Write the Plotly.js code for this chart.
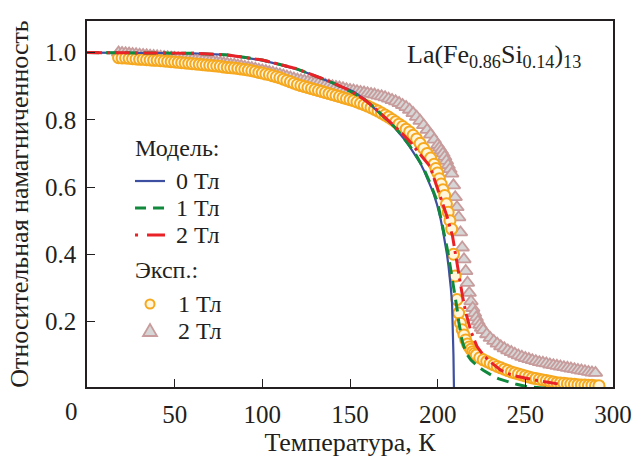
<!DOCTYPE html>
<html>
<head>
<meta charset="utf-8">
<script src="https://cdn.plot.ly/plotly-3.0.1.min.js"></script>
</head>
<body style="margin:0;background:#fff">
<div id="chart" style="width:633px;height:458px"></div>
<script>
// ---- Model curves ----
const blueT = [0,20,40,60,80,100,110,120,128,133,138,142,147,152,158,163,167,171,175,178,181,184,186,188,190,192,194,195.5,197.6,199.5,201.4,203,204.3,205.3,206.2,207,207.5,208.2,208.7,209,209.2,209.3];
const blueM = [1,1,0.999,0.998,0.993,0.977,0.964,0.950,0.935,0.924,0.914,0.905,0.895,0.884,0.862,0.839,0.82,0.80,0.78,0.762,0.742,0.72,0.705,0.69,0.672,0.651,0.628,0.61,0.582,0.55,0.512,0.47,0.433,0.40,0.364,0.33,0.30,0.255,0.185,0.10,0.03,0.0];

const greenT = [0,20,40,60,80,100,120,138,150,158,163,167,171,175,178,181,184,188,192,195.5,198,200,201.5,203,204.2,205.2,206.2,207,208,208.8,210,211,212,213,214,215.5,217,219,221,223.5,226,229,232,235,238,242,245,250,255,260,265,270];
const greenM = [1,1,0.999,0.998,0.993,0.978,0.951,0.915,0.885,0.862,0.840,0.821,0.801,0.781,0.763,0.744,0.723,0.692,0.655,0.614,0.582,0.554,0.515,0.48,0.45,0.423,0.395,0.37,0.345,0.315,0.284,0.24,0.20,0.168,0.141,0.118,0.10,0.085,0.075,0.064,0.055,0.045,0.036,0.029,0.024,0.017,0.013,0.007,0.004,0.002,0.001,0.0];

const redT = [0,20,40,60,80,100,120,138,150,157.7,163,168,174,180.5,185,188,192,195.7,199,202.8,205.5,208.5,210.5,212.3,214.2,216.1,219,222.4,226,230,236,240,245,250,257,263,270];
const redM = [1,1,0.999,0.998,0.993,0.978,0.951,0.915,0.887,0.862,0.840,0.817,0.788,0.755,0.73,0.71,0.685,0.661,0.61,0.552,0.51,0.453,0.395,0.334,0.275,0.225,0.17,0.126,0.10,0.08,0.055,0.045,0.037,0.031,0.024,0.019,0.013];

// ---- Experiment, 1 T (circles) ----
const exp1T = [18,20,22,24,26,28,30,32,34,36,38,40,42,44,46,48,50,52,54,56,58,60,62,64,66,68,70,72,74,76,78,80,82,84,86,88,90,92,94,96,98,100,102,104,106,108,110,112,114,116,118,120,122,124,126,128,130,132,134,136,138,140,142,144,146,148,150,152,154,156,158,160,162,164,166,168,170,172,174,176,178,180,182,184,186,188,190,192,194,196,198,199,200,201,202,203,204,205,206,207,208,209,210,211,212,213,214,215,216,217,218,219,220,221,222,224,226,228,230,232,234,236,238,240,242,244,246,248,250,252,254,256,258,260,262,264,266,268,270,272,274,276,278,280,282,284,286,288,290,292];
const exp1M = [0.985,0.984,0.984,0.983,0.982,0.981,0.980,0.980,0.979,0.978,0.977,0.977,0.976,0.975,0.974,0.973,0.972,0.971,0.970,0.969,0.968,0.967,0.966,0.965,0.964,0.963,0.962,0.961,0.960,0.959,0.957,0.956,0.955,0.954,0.953,0.951,0.950,0.948,0.946,0.944,0.941,0.939,0.936,0.934,0.931,0.928,0.925,0.921,0.917,0.913,0.909,0.905,0.902,0.899,0.896,0.893,0.890,0.887,0.884,0.881,0.878,0.875,0.872,0.869,0.866,0.863,0.860,0.857,0.853,0.849,0.845,0.841,0.836,0.831,0.826,0.820,0.814,0.808,0.801,0.794,0.787,0.780,0.772,0.764,0.754,0.743,0.730,0.715,0.700,0.686,0.668,0.655,0.642,0.625,0.609,0.592,0.575,0.550,0.525,0.500,0.475,0.400,0.335,0.265,0.225,0.195,0.175,0.160,0.145,0.133,0.124,0.117,0.110,0.105,0.100,0.092,0.086,0.081,0.076,0.071,0.066,0.062,0.058,0.054,0.050,0.047,0.044,0.041,0.038,0.035,0.032,0.030,0.028,0.026,0.024,0.022,0.020,0.018,0.017,0.016,0.015,0.014,0.013,0.012,0.011,0.011,0.010,0.010,0.009,0.009];

// ---- Experiment, 2 T (triangles) ----
const exp2T = [18,20,22,24,26,28,30,32,34,36,38,40,42,44,46,48,50,52,54,56,58,60,62,64,66,68,70,72,74,76,78,80,82,84,86,88,90,92,94,96,98,100,102,104,106,108,110,112,114,116,118,120,122,124,126,128,130,132,134,136,138,140,142,144,146,148,150,152,154,156,158,160,162,164,166,168,170,172,174,176,178,180,182,184,186,188,190,192,194,196,198,200,201,202,203,204,205,206,207,208,209,210,211,212,213,214,215,216,217,218,219,220,221,222,223,224,225,226,228,230,232,234,236,238,240,242,244,246,248,250,252,254,256,258,260,262,264,266,268,270,272,274,276,278,280,282,284,286,288,290];
const exp2M = [1.000,0.999,0.998,0.997,0.996,0.995,0.994,0.993,0.992,0.991,0.990,0.989,0.988,0.987,0.986,0.985,0.984,0.983,0.982,0.981,0.980,0.979,0.978,0.977,0.976,0.975,0.974,0.973,0.971,0.970,0.968,0.967,0.965,0.964,0.962,0.960,0.958,0.956,0.954,0.952,0.949,0.947,0.945,0.942,0.940,0.937,0.935,0.932,0.929,0.926,0.923,0.920,0.918,0.916,0.914,0.912,0.910,0.908,0.906,0.904,0.902,0.900,0.898,0.896,0.894,0.891,0.889,0.887,0.885,0.883,0.881,0.879,0.877,0.875,0.872,0.870,0.867,0.863,0.859,0.855,0.850,0.844,0.838,0.830,0.820,0.809,0.797,0.784,0.770,0.756,0.741,0.725,0.717,0.709,0.700,0.690,0.678,0.665,0.653,0.640,0.605,0.570,0.540,0.510,0.465,0.420,0.385,0.350,0.315,0.285,0.260,0.240,0.225,0.212,0.200,0.190,0.181,0.174,0.162,0.151,0.142,0.134,0.126,0.120,0.114,0.109,0.104,0.099,0.095,0.091,0.088,0.085,0.082,0.079,0.077,0.075,0.072,0.070,0.068,0.066,0.064,0.062,0.060,0.058,0.056,0.054,0.052,0.050,0.048,0.047];

const xTicks = [50,100,150,200,250,300];
const yTicks = [0.2,0.4,0.6,0.8,1.0];
const groupModel = 'Модель:';
const groupExp = 'Эксп.:';
const names = ['0 Тл','1 Тл','2 Тл','1 Тл','2 Тл'];
const xTitle = 'Температура, К';
const yTitle = 'Относительная намагниченность';
const formula = 'La(Fe<sub>0.86</sub>Si<sub>0.14</sub>)<sub>13</sub>';

const FONT = 'Liberation Serif';
const TXT = '#231f20';
const FT = {family: FONT, size: 25, color: TXT};
const FL = {family: FONT, size: 26, color: TXT};
const FG = {family: FONT, size: 24, color: TXT};

const C_BLUE = '#3d4fa1', C_GREEN = '#11893d', C_RED = '#e92228';
const C_ORANGE = '#f6a81f', C_CREAM = '#fff6dc', C_ROSE = '#c89c9c', C_GREY = '#d6d6d6';
const DASH_G = '12px,7px', DASH_R = '15px,5px,3px,5px';

const traces = [
  {x: exp2T, y: exp2M, mode: 'markers', type: 'scatter', name: names[4], showlegend: false,
   marker: {symbol: 'triangle-up', size: 12, color: C_GREY, line: {color: C_ROSE, width: 1.8}}},
  {x: exp1T, y: exp1M, mode: 'markers', type: 'scatter', name: names[3], showlegend: false,
   marker: {symbol: 'circle', size: 11, color: C_CREAM, line: {color: C_ORANGE, width: 2}}},
  {x: blueT, y: blueM, mode: 'lines', type: 'scatter', name: names[0], showlegend: false,
   line: {color: C_BLUE, width: 2.2}},
  {x: greenT, y: greenM, mode: 'lines', type: 'scatter', name: names[1], showlegend: false,
   line: {color: C_GREEN, width: 3, dash: DASH_G}},
  {x: redT, y: redM, mode: 'lines', type: 'scatter', name: names[2], showlegend: false,
   line: {color: C_RED, width: 3, dash: DASH_R}}
];

// legend (hand-built: header texts + symbols), positions in paper units
const LX0 = 0.0913, LX1 = 0.1483, LTX = 0.166, LHX = 0.0875;
const rowY = [0.5628, 0.489, 0.4153, 0.2268, 0.153];
const headY = [0.653, 0.3197];

const ann = (text, x, y, xa, font, extra) => Object.assign({text, x, y, xref: 'paper', yref: 'paper',
  xanchor: xa, yanchor: 'middle', showarrow: false, font}, extra || {});

const annotations = [
  ann(formula, 0.943, 0.905, 'right', FL),
  ann('0', 0, 0, 'center', FT, {yanchor: 'top', xshift: -16, yshift: -9}),
  ann(groupModel, LHX, headY[0], 'left', FG),
  ann(names[0], LTX, rowY[0], 'left', FG),
  ann(names[1], LTX, rowY[1], 'left', FG),
  ann(names[2], LTX, rowY[2], 'left', FG),
  ann(groupExp, LHX, headY[1], 'left', FG),
  ann(names[3], LTX + 0.004, rowY[3], 'left', FG),
  ann(names[4], LTX + 0.004, rowY[4], 'left', FG)
];

const shapes = [
  {type: 'line', xref: 'paper', yref: 'paper', x0: LX0, x1: LX1, y0: rowY[0], y1: rowY[0], line: {color: C_BLUE, width: 2.2}},
  {type: 'line', xref: 'paper', yref: 'paper', x0: LX0, x1: LX1, y0: rowY[1], y1: rowY[1], line: {color: C_GREEN, width: 3, dash: '11px,7px'}},
  {type: 'line', xref: 'paper', yref: 'paper', x0: LX0, x1: LX1, y0: rowY[2], y1: rowY[2], line: {color: C_RED, width: 3, dash: '3px,9px,18px,5px'}},
  {type: 'circle', xref: 'paper', yref: 'paper', xsizemode: 'pixel', ysizemode: 'pixel',
   xanchor: 0.1198, yanchor: rowY[3], x0: -4.5, x1: 4.5, y0: -4.5, y1: 4.5,
   fillcolor: C_CREAM, line: {color: C_ORANGE, width: 2}},
  {type: 'path', xref: 'paper', yref: 'paper', xsizemode: 'pixel', ysizemode: 'pixel',
   xanchor: 0.1198, yanchor: rowY[4], path: 'M-7,-5 L7,-5 L0,7 Z',
   fillcolor: C_GREY, line: {color: C_ROSE, width: 1.8}}
];

const layout = {
  width: 633, height: 458,
  margin: {l: 87, r: 20, t: 21, b: 71, pad: 0},
  paper_bgcolor: '#ffffff', plot_bgcolor: '#ffffff',
  font: FL,
  showlegend: false,
  xaxis: {range: [0, 300], tickvals: xTicks, ticktext: xTicks.map(String), ticks: 'inside', ticklen: 8,
          tickwidth: 1.2, tickcolor: TXT, showline: true, linecolor: TXT, linewidth: 1.5, mirror: true,
          showgrid: false, zeroline: false, tickfont: FT, ticklabelstandoff: 4,
          title: {text: xTitle, font: FL, standoff: 0}},
  yaxis: {range: [0.005, 1.094], tickvals: yTicks, ticktext: yTicks.map(v => v.toFixed(1)), ticks: 'inside', ticklen: 8,
          tickwidth: 1.2, tickcolor: TXT, showline: true, linecolor: TXT, linewidth: 1.5, mirror: true,
          showgrid: false, zeroline: false, tickfont: FT, ticklabelstandoff: 4,
          title: {text: yTitle, font: FL, standoff: 9}},
  annotations, shapes
};

Plotly.newPlot('chart', traces, layout, {displayModeBar: false});
</script>
</body>
</html>
